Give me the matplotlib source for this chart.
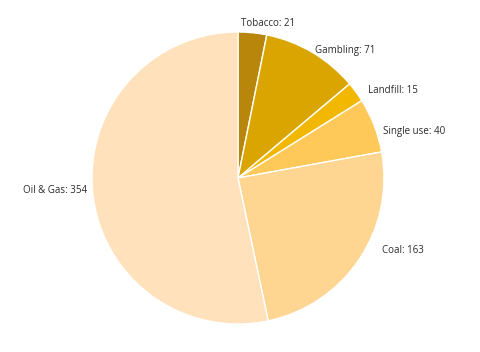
import numpy as np
import matplotlib.pyplot as plt

categories = ['Tobacco', 'Gambling', 'Landfill', 'Single use', 'Coal', 'Oil & Gas']
values = [21, 71, 15, 40, 163, 354]
colors = ['#B8860B', '#DAA500', '#F2B700', '#FFC95A', '#FFD592', '#FFE1BB']

# small label nudges (in pie-radius units) to match the original placement
nudge = {'Tobacco': (-0.08, 0.02), 'Gambling': (0.0, -0.02), 'Landfill': (0.05, -0.01),
         'Single use': (0.02, -0.055), 'Coal': (0.12, 0.08), 'Oil & Gas': (0.0, 0.02)}

plt.rcParams['font.family'] = ['Open Sans', 'DejaVu Sans']

fig = plt.figure(figsize=(4.8, 3.52), dpi=100)
# pie centre at (238, 178) px, radius 146 px
cx, cy, r = 238, 352 - 178, 146
ax = fig.add_axes([(cx - r) / 480, (cy - r) / 352, 2 * r / 480, 2 * r / 352])

wedges, _ = ax.pie(values, colors=colors, startangle=90, counterclock=False,
                   radius=1, wedgeprops=dict(edgecolor='white', linewidth=1))

total = sum(values)
start = 0
for cat, v in zip(categories, values):
    mid = (start + v / 2) / total * 2 * np.pi
    start += v
    x, y = 1.04 * np.sin(mid), 1.04 * np.cos(mid)
    ha = 'left' if x >= 0 else 'right'
    dx, dy = nudge[cat]
    ax.text(x + dx, y + dy, f'{cat}: {v}', ha=ha, va='center', fontsize=7, color='#2b2b2b')

ax.set_xlim(-1, 1)
ax.set_ylim(-1, 1)
ax.set_aspect('equal')
ax.axis('off')

fig.savefig('out.png', dpi=100)
